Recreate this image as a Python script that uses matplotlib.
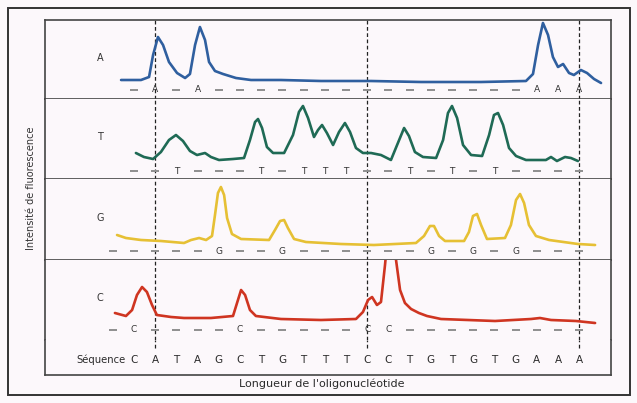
import matplotlib
matplotlib.use("Agg")
import matplotlib.pyplot as plt
from matplotlib.patches import Rectangle

# ---------------- data ----------------
SEQUENCE = ["C", "A", "T", "A", "G", "C", "T", "G", "T", "T", "T",
            "C", "C", "T", "G", "T", "G", "T", "G", "A", "A", "A"]
BASES = ["A", "T", "G", "C"]
MARKER_POSITIONS = [1, 11, 21]          # dashed vertical reference lines
ROW_START = {"A": 0, "T": 0, "G": -1, "C": -1}

# traces: x in sequence-position units, y = fluorescence intensity (a.u.)
A_x = [-0.61, 0.33, 0.71, 0.90, 1.13, 1.37, 1.65, 2.03, 2.41, 2.64, 2.88, 3.11,
       3.35, 3.54, 3.82, 4.20, 4.81, 5.52, 6.93, 8.82, 11.18, 13.54, 16.37,
       18.49, 18.82, 19.06, 19.29, 19.53, 19.76, 20.0, 20.24, 20.52, 20.75,
       21.08, 21.37, 21.70, 22.03]
A_y = [19, 19, 22, 44, 62, 54, 37, 26, 21, 25, 54, 72,
       59, 37, 28, 25, 21, 19, 19, 18, 18, 17, 17,
       18, 25, 54, 76, 64, 42, 32, 35, 26, 24,
       29, 26, 20, 16]

T_x = [0.09, 0.47, 0.90, 1.27, 1.65, 1.98, 2.31, 2.64, 2.97, 3.35, 3.63, 4.01,
       4.67, 5.19, 5.47, 5.71, 5.85, 6.04, 6.27, 6.56, 7.08, 7.50, 7.78, 7.97,
       8.21, 8.49, 8.68, 8.87, 9.10, 9.39, 9.67, 9.95, 10.19, 10.47, 10.80,
       11.18, 11.65, 12.12, 12.41, 12.74, 12.97, 13.25, 13.63, 14.25, 14.58,
       14.81, 15.0, 15.24, 15.52, 15.90, 16.42, 16.75, 16.98, 17.17, 17.41,
       17.69, 18.02, 18.49, 19.43, 19.67, 19.95, 20.33, 20.61, 20.94]
T_y = [26, 22, 20, 27, 39, 44, 38, 28, 24, 26, 22, 19,
       20, 21, 39, 57, 60, 51, 32, 26, 26, 44, 67, 73,
       61, 42, 49, 54, 46, 34, 47, 56, 47, 31, 26,
       26, 24, 19, 34, 51, 43, 27, 22, 21, 39,
       66, 73, 61, 34, 24, 23, 44, 64, 66, 54,
       31, 23, 19, 19, 22, 18, 22, 21, 18]

G_x = [-0.80, -0.38, 0.33, 1.27, 2.36, 2.69, 3.07, 3.40, 3.68, 3.82, 3.96, 4.10,
       4.25, 4.39, 4.62, 5.05, 6.37, 6.65, 6.89, 7.08, 7.26, 7.55, 8.11, 9.76,
       11.32, 13.30, 13.68, 13.96, 14.15, 14.39, 14.67, 15.57, 15.80, 15.99,
       16.18, 16.37, 16.65, 17.50, 17.78, 18.02, 18.21, 18.40, 18.63, 18.96,
       19.58, 20.94, 21.75]
G_y = [25, 22, 20, 19, 17, 20, 22, 20, 24, 45, 67, 73,
       65, 42, 26, 21, 20, 30, 39, 40, 32, 21, 18, 16,
       15, 17, 24, 34, 34, 24, 19, 19, 28, 44,
       46, 35, 21, 22, 35, 60, 66, 57, 35, 24,
       20, 16, 15]

C_x = [-0.90, -0.38, -0.09, 0.14, 0.38, 0.61, 0.85, 1.08, 1.75, 2.36, 3.63, 4.67,
       4.86, 5.05, 5.24, 5.47, 5.75, 6.93, 8.82, 10.47, 10.80, 11.04, 11.23,
       11.46, 11.65, 11.84, 11.93, 12.22, 12.36, 12.55, 12.78, 13.07, 13.44,
       13.82, 14.48, 17.03, 18.73, 19.15, 19.67, 20.85, 21.75]
C_y = [27, 24, 30, 45, 53, 48, 35, 25, 23, 22, 22, 24,
       37, 50, 45, 30, 24, 21, 20, 21, 28, 40, 43,
       35, 38, 75, 95, 95, 80, 50, 37, 31, 27,
       24, 21, 19, 21, 22, 20, 19, 17]

TRACES = {"A": (A_x, A_y), "T": (T_x, T_y), "G": (G_x, G_y), "C": (C_x, C_y)}
COLORS = {"A": "#2f5f9f", "T": "#1f6a55", "G": "#e6c034", "C": "#cf3521"}

Y_LABEL = "Intensité de fluorescence"
X_LABEL = "Longueur de l'oligonucléotide"
SEQ_LABEL = "Séquence"

# ---------------- layout ----------------
W, H = 637, 403
BG = "#fcf8fb"
fig = plt.figure(figsize=(W / 100, H / 100), dpi=100, facecolor=BG)
plt.rcParams["font.family"] = ["DejaVu Sans"]

def px_axes(l, t, r, b):
    ax = fig.add_axes([l / W, 1 - b / H, (r - l) / W, (b - t) / H])
    ax.set_facecolor(BG)
    ax.set_xticks([]); ax.set_yticks([])
    return ax

LEFT, RIGHT = 45, 611
X0, DX = 134, 21.2
XLIM = ((LEFT - X0) / DX, (RIGHT - X0) / DX)
panel_px = {"A": (20, 99), "T": (99, 179), "G": (179, 260), "C": (260, 340)}
label_row_y = {"A": 9, "T": 8, "G": 9, "C": 10}
EDGE = "#444444"
DASH = (0, (3, 2))

for base in BASES:
    t, b = panel_px[base]
    ax = px_axes(LEFT, t, RIGHT, b)
    ax.set_xlim(*XLIM)
    ax.set_ylim(0, b - t)
    for s in ax.spines.values():
        s.set_color(EDGE); s.set_linewidth(1.2)
    ax.spines["top"].set_visible(base == "A")
    ax.spines["bottom"].set_visible(base != "C")
    for p in MARKER_POSITIONS:
        ax.axvline(p, color="#222222", lw=0.9, ls=DASH, zorder=1)
    xs, ys = TRACES[base]
    ax.plot(xs, ys, color=COLORS[base], lw=1.9, solid_joinstyle="round",
            solid_capstyle="round", zorder=3)
    ax.text((100 - X0) / DX, (b - t) * 0.52, base, ha="center", va="center",
            fontsize=7, color="#333333")
    dash_x = []
    for i in range(ROW_START[base], len(SEQUENCE)):
        if i >= 0 and SEQUENCE[i] == base:
            ax.text(i, label_row_y[base], base, ha="center", va="center",
                    fontsize=6.5, color="#333333", zorder=4)
        else:
            dash_x.append(i)
    ax.plot(dash_x, [label_row_y[base]] * len(dash_x), ls="none", marker="_",
            ms=5.5, mew=1.4, color="#8f8f8f", zorder=2)

# sequence row
sax = px_axes(LEFT, 340, RIGHT, 375)
sax.set_xlim(*XLIM)
sax.set_ylim(0, 1)
for s in sax.spines.values():
    s.set_color(EDGE); s.set_linewidth(1.2)
sax.spines["top"].set_visible(False)
for p in MARKER_POSITIONS:
    sax.axvline(p, ymin=0.78, ymax=1, color="#222222", lw=0.9, ls=DASH)
for i, letter in enumerate(SEQUENCE):
    sax.text(i, 0.44, letter, ha="center", va="center", fontsize=7.5,
             color="#2a2a2a")
sax.text((126 - X0) / DX, 0.44, SEQ_LABEL, ha="right", va="center",
         fontsize=7.2, color="#2a2a2a")

# axis titles
fig.text(31 / W, 1 - 188 / H, Y_LABEL, rotation=90, ha="center", va="center",
         fontsize=7, color="#333333")
fig.text(322 / W, 1 - 384 / H, X_LABEL, ha="center", va="center",
         fontsize=8, color="#2a2a2a")

# outer frame
fig.patches.append(Rectangle((8 / W, 1 - 395 / H), (630 - 8) / W, (395 - 8) / H,
                             transform=fig.transFigure, fill=False,
                             ec="#333333", lw=1.4))

fig.savefig("out.png", dpi=100, facecolor=BG)
